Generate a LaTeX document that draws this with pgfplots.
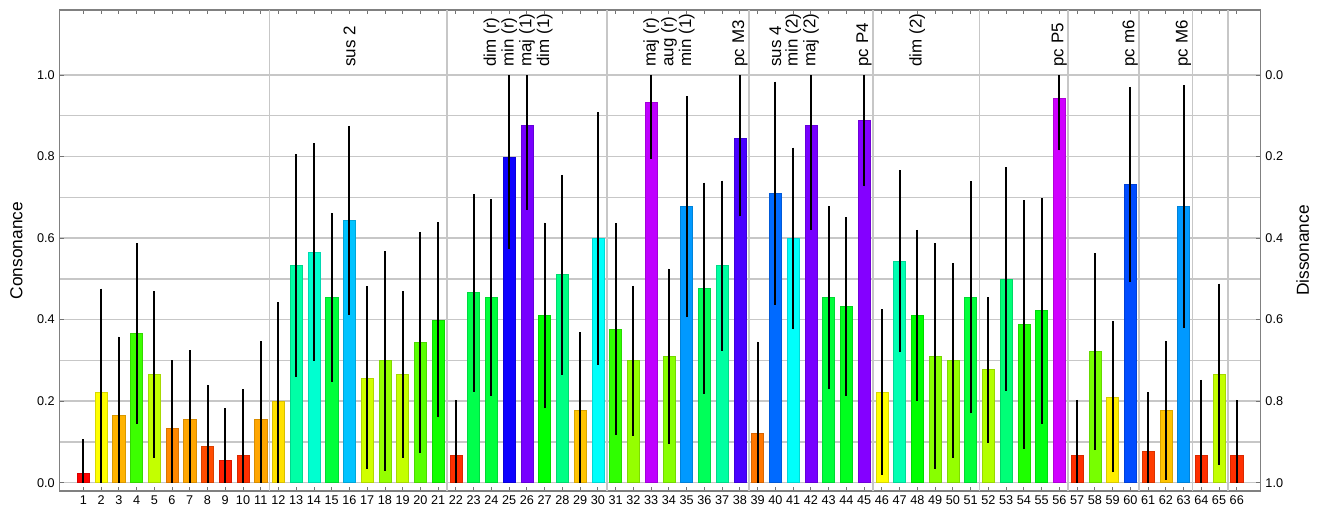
\documentclass[border=0pt]{standalone}
\usepackage{pgfplots}
\pgfplotsset{compat=1.18}
\usepackage{pgfplotstable}
\usepackage{fontspec}
\setmainfont{Liberation Sans}

\pgfplotstableread{
x y lo hi
1 0.023 0 0.106
2 0.222 0 0.476
3 0.166 0 0.358
4 0.367 0.144 0.587
5 0.267 0.061 0.470
6 0.134 0 0.300
7 0.156 0 0.325
8 0.090 0 0.240
9 0.056 0 0.183
10 0.068 0 0.229
11 0.156 0 0.347
12 0.200 0 0.442
13 0.534 0.260 0.805
14 0.566 0.299 0.832
15 0.455 0.248 0.662
16 0.644 0.412 0.875
17 0.256 0.033 0.482
18 0.301 0.029 0.568
19 0.267 0.061 0.470
20 0.345 0.074 0.615
21 0.399 0.160 0.639
22 0.068 0 0.203
23 0.467 0.223 0.708
24 0.455 0.213 0.695
25 0.799 0.573 1.000
26 0.877 0.670 1.000
27 0.411 0.182 0.638
28 0.511 0.265 0.755
29 0.178 0 0.369
30 0.599 0.289 0.908
31 0.377 0.117 0.636
32 0.301 0.115 0.483
33 0.933 0.795 1.000
34 0.311 0.096 0.525
35 0.678 0.406 0.948
36 0.478 0.218 0.736
37 0.533 0.324 0.741
38 0.845 0.653 1.000
39 0.122 0 0.346
40 0.711 0.437 0.984
41 0.599 0.376 0.822
42 0.877 0.621 1.000
43 0.455 0.231 0.679
44 0.433 0.213 0.651
45 0.889 0.727 1.000
46 0.222 0.019 0.425
47 0.544 0.320 0.767
48 0.411 0.200 0.620
49 0.311 0.033 0.587
50 0.301 0.061 0.538
51 0.455 0.170 0.739
52 0.278 0.098 0.455
53 0.500 0.225 0.774
54 0.389 0.083 0.693
55 0.423 0.144 0.698
56 0.944 0.815 1.000
57 0.068 0 0.203
58 0.322 0.080 0.563
59 0.210 0.025 0.397
60 0.733 0.493 0.971
61 0.078 0 0.222
62 0.178 0.007 0.348
63 0.678 0.379 0.975
64 0.068 0 0.252
65 0.267 0.043 0.488
66 0.068 0 0.203
}\data

\foreach \i in {0,...,65}{%
  \pgfplotstablegetelem{\i}{y}\of\data
  \pgfmathtruncatemacro\h{max(0,min(359,317*\pgfplotsretval-10))}%
  \convertcolorspec{Hsb}{\h,1,1}{rgb}\rgbspec
  \edef\tmp{\noexpand\xglobal\noexpand\definecolor{bc\i}{rgb}{\rgbspec}}\tmp
}

\newcommand\tickfont{\fontsize{9.5}{11}\selectfont}
\newcommand\labfont{\fontsize{13}{15}\selectfont}
\newcommand\annfont{\fontsize{12.7}{15}\selectfont}

\begin{document}
\begin{tikzpicture}
\begin{axis}[
  name=main,
  scale only axis,
  width=901.05pt, height=360.75pt,
  xmin=-0.35, xmax=67.35,
  ymin=-0.0204, ymax=1.1594,
  clip=false,
  xtick={1,...,66},
  xtick pos=both,
  ytick={0,0.2,0.4,0.6,0.8,1.0},
  minor ytick={0.1,0.3,0.5,0.7,0.9},
  ytick pos=left,
  ymajorgrids, yminorgrids,
  major grid style={black!22, line width=1.1pt},
  minor grid style={black!22, line width=1.1pt},
  minor tick length=0pt,
  tick align=inside,
  major tick length=3.2pt,
  tick style={black!55, line width=0.7pt},
  axis line style={black!50, line width=1pt},
  tick label style={font=\tickfont},
  /pgf/number format/assume math mode=true,
  yticklabel style={/pgf/number format/.cd, fixed, fixed zerofill, precision=1},
]
\foreach \s in {11.5,21.5,30.5,38.5,45.5,51.5,56.5,60.5,63.5,65.5}{
  \edef\tmp{\noexpand\draw[black!22, line width=1.1pt] (axis cs:\s,-0.0204) -- (axis cs:\s,1.1594);}\tmp
}
\pgfplotsinvokeforeach{0,...,65}{
  \addplot[ybar, bar width=0.68, bar shift=0pt, fill=bc#1, draw=bc#1!85!black, line width=0.4pt,
    restrict expr to domain={\coordindex}{#1:#1},
    error bars/.cd, y dir=both, y explicit, error mark=none,
    error bar style={line width=1.5pt, black}]
    table[x=x, y=y, y error plus expr=\thisrow{hi}-\thisrow{y}, y error minus expr=\thisrow{y}-\thisrow{lo}] {\data};
}
\foreach \xx/\tt in {16/sus 2, 24/dim (r), 25/min (r), 26/maj (1), 27/dim (1), 33/maj (r), 34/aug (r), 35/min (1), 38/pc M3, 40/sus 4, 41/min (2), 42/maj (2), 45/pc P4, 48/dim (2), 56/pc P5, 60/pc m6, 63/pc M6}{
  \edef\tmp{\noexpand\node[rotate=90, anchor=west, inner sep=0pt, font=\noexpand\annfont] at (axis cs:\xx,1.02) {\tt};}\tmp
}
\end{axis}
\begin{axis}[
  scale only axis,
  width=901.05pt, height=360.75pt,
  xmin=-0.35, xmax=67.35,
  ymin=-0.1594, ymax=1.0204,
  y dir=reverse,
  hide x axis,
  axis y line*=right,
  ytick={0,0.2,0.4,0.6,0.8,1.0},
  tick align=inside,
  major tick length=3.2pt,
  tick style={black!55, line width=0.7pt},
  axis line style={black!50, line width=1pt},
  tick label style={font=\tickfont},
  /pgf/number format/assume math mode=true,
  yticklabel style={/pgf/number format/.cd, fixed, fixed zerofill, precision=1},
]
\addplot[draw=none] coordinates {(1,0)};
\end{axis}
\node[rotate=90, font=\labfont] at ([xshift=-32.25pt]main.west) {Consonance};
\node[rotate=90, font=\labfont] at ([xshift=31.5pt]main.east) {Dissonance};
\pgfresetboundingbox
\path[use as bounding box] ([shift={(-44.5pt,-15.75pt)}]main.south west) rectangle ([shift={(45.2pt,7.5pt)}]main.north east);
\end{tikzpicture}
\end{document}
